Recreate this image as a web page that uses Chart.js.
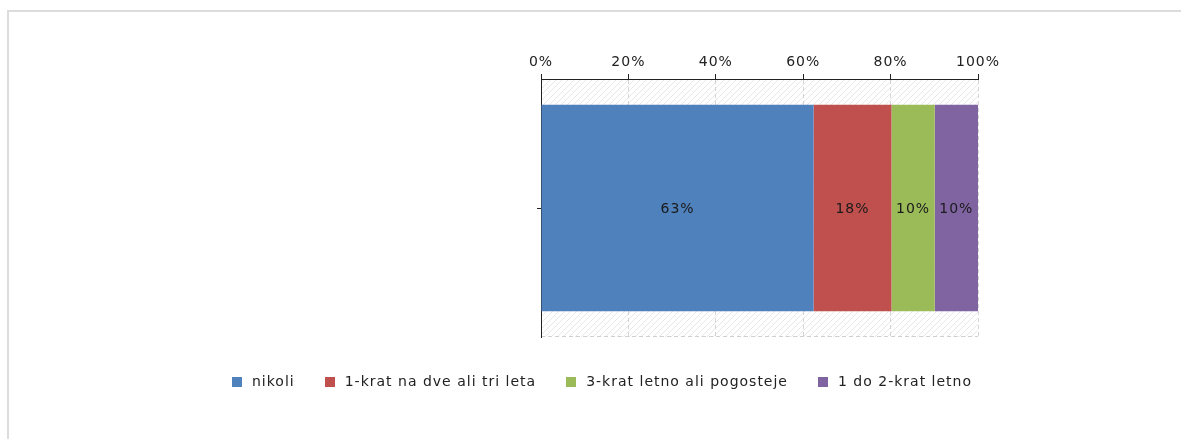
<!DOCTYPE html>
<html>
<head>
<meta charset="utf-8">
<script src="https://cdn.jsdelivr.net/npm/chart.js@4/dist/chart.umd.min.js"></script>
<style>
    html, body { margin: 0; padding: 0; background: #fff; }
    #wrap { position: relative; width: 1181px; height: 439px; overflow: hidden; }
    #frame {
        position: absolute; left: 7px; top: 10px; right: 0; bottom: 0;
        border-top: 2px solid #dcdcdc; border-left: 2px solid #dcdcdc;
    }
    canvas { position: absolute; left: 0; top: 0; }
</style>
</head>
<body>
<div id="wrap">
    <div id="frame"></div>
    <canvas id="freqChart" width="1181" height="439"></canvas>
</div>
<script>
// Answers (share of respondents, %)
const categories = [''];
const answerLabels = ['nikoli', '1-krat na dve ali tri leta', '3-krat letno ali pogosteje', '1 do 2-krat letno'];
const answerValues = [63, 18, 10, 10];
const answerColors = ['#4F81BD', '#C0504D', '#9BBB59', '#8064A2'];
const tickValues = [0, 20, 40, 60, 80, 100];

const FONT = "'DejaVu Sans', Verdana, sans-serif";
const SPACING = '1px';

// 100% stacked: each answer as a share of the total
const total = answerValues.reduce((a, b) => a + b, 0);

// Light diagonal hatching behind the plot
function makeHatch() {
    const c = document.createElement('canvas');
    c.width = 6;
    c.height = 6;
    const g = c.getContext('2d');
    g.strokeStyle = '#e8e8e8';
    g.lineWidth = 1;
    g.beginPath();
    g.moveTo(0, 6);
    g.lineTo(6, 0);
    g.moveTo(-1, 1);
    g.lineTo(1, -1);
    g.moveTo(5, 7);
    g.lineTo(7, 5);
    g.stroke();
    return c;
}

// Small square used as legend marker
function makeSwatch(color) {
    const c = document.createElement('canvas');
    c.width = 10;
    c.height = 10;
    const g = c.getContext('2d');
    g.fillStyle = color;
    g.fillRect(0, 0, 10, 10);
    return c;
}

const letterSpacing = {
    id: 'letterSpacing',
    beforeUpdate(chart) { chart.ctx.letterSpacing = SPACING; },
    beforeLayout(chart) { chart.ctx.letterSpacing = SPACING; },
    beforeDraw(chart) { chart.ctx.letterSpacing = SPACING; }
};

const hatchBackground = {
    id: 'hatchBackground',
    beforeDraw(chart) {
        const { ctx, chartArea: a } = chart;
        ctx.save();
        ctx.fillStyle = ctx.createPattern(makeHatch(), 'repeat');
        ctx.fillRect(a.left, a.top, a.right - a.left, a.bottom - a.top);
        // dashed bottom edge of the plot
        ctx.strokeStyle = '#d0d0d0';
        ctx.lineWidth = 1;
        ctx.setLineDash([4, 3]);
        ctx.beginPath();
        ctx.moveTo(a.left, a.bottom - 0.5);
        ctx.lineTo(a.right, a.bottom - 0.5);
        ctx.stroke();
        ctx.restore();
    }
};

// Value labels in the middle of each segment
const segmentLabels = {
    id: 'segmentLabels',
    afterDatasetsDraw(chart) {
        const ctx = chart.ctx;
        ctx.save();
        ctx.font = '14px ' + FONT;
        ctx.fillStyle = '#1a1a1a';
        ctx.textAlign = 'center';
        ctx.textBaseline = 'middle';
        chart.data.datasets.forEach((ds, i) => {
            chart.getDatasetMeta(i).data.forEach(bar => {
                const p = bar.getCenterPoint();
                ctx.fillText(ds.raw + '%', p.x, p.y + 1);
            });
        });
        ctx.restore();
    }
};

const ctx = document.getElementById('freqChart').getContext('2d');

new Chart(ctx, {
    type: 'bar',
    data: {
        labels: categories,
        datasets: answerLabels.map((label, i) => ({
            label: label,
            raw: answerValues[i],
            data: [answerValues[i] / total * 100],
            backgroundColor: answerColors[i],
            borderWidth: 0,
            barPercentage: 1,
            categoryPercentage: 0.8
        }))
    },
    options: {
        indexAxis: 'y',
        responsive: false,
        animation: false,
        layout: {
            padding: { left: 20, right: 0, top: 40, bottom: 40 }
        },
        scales: {
            x: {
                position: 'top',
                stacked: true,
                min: 0,
                max: 100,
                afterBuildTicks: scale => {
                    scale.ticks = tickValues.map(v => ({ value: v }));
                },
                afterFit: scale => { scale.height = 39; },
                grid: {
                    color: '#d4d4d4',
                    tickColor: '#222',
                    tickLength: 5,
                    lineWidth: 1
                },
                border: { color: '#222', width: 1, dash: [4, 3] },
                ticks: {
                    padding: 3,
                    color: '#222',
                    font: { family: FONT, size: 14 },
                    callback: v => v + '%'
                }
            },
            x2: {
                position: 'bottom',
                display: true,
                min: 0,
                max: 100,
                afterFit: scale => { scale.height = 11; },
                grid: { display: false },
                ticks: { display: false },
                border: { display: false }
            },
            y: {
                stacked: true,
                afterFit: scale => { scale.width = 521; },
                grid: {
                    offset: false,
                    drawOnChartArea: false,
                    tickColor: '#222',
                    tickLength: 4
                },
                border: { color: '#222', width: 1 },
                ticks: { display: true, padding: 0, font: { family: FONT, size: 1 } }
            },
            // empty space on the right of the plot
            y2: {
                type: 'linear',
                position: 'right',
                display: true,
                afterFit: scale => { scale.width = 203; },
                grid: { display: false },
                ticks: { display: false },
                border: { display: false }
            }
        },
        plugins: {
            legend: {
                position: 'bottom',
                labels: {
                    usePointStyle: true,
                    pointStyleWidth: 16,
                    boxHeight: 10,
                    padding: 27,
                    color: '#222',
                    font: { family: FONT, size: 14 },
                    generateLabels: chart => {
                        const items = Chart.defaults.plugins.legend.labels.generateLabels(chart);
                        items.forEach((item, i) => {
                            item.pointStyle = makeSwatch(answerColors[i]);
                        });
                        return items;
                    }
                }
            },
            tooltip: { enabled: false }
        }
    },
    plugins: [letterSpacing, hatchBackground, segmentLabels]
});
</script>
</body>
</html>
